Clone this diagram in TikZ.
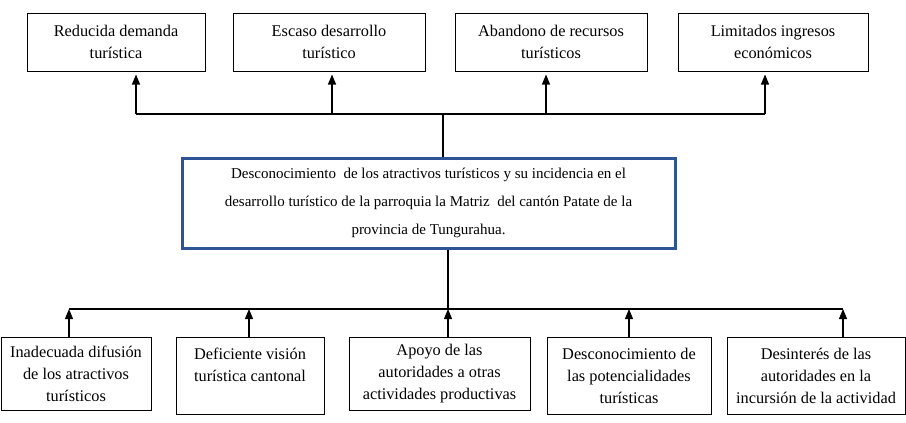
\documentclass[tikz,border=0pt]{standalone}
\usepackage{fontspec}
\setmainfont{Liberation Serif}
\usepackage{xcolor}
\usetikzlibrary{arrows.meta}
\definecolor{problemblue}{RGB}{47, 84, 150}

\tikzset{
  effect/.style={draw, line width=1pt, align=center, inner sep=0pt,
    font=\fontsize{16.3}{22}\selectfont, minimum height=58pt},
  cause/.style={draw, line width=1pt, align=center, inner sep=0pt,
    font=\fontsize{16.3}{22}\selectfont},
  problem/.style={draw=problemblue, line width=3pt, align=center, inner sep=0pt,
    font=\fontsize{15}{28.3}\selectfont, minimum width=493pt, minimum height=90pt},
  link/.style={line width=1.1pt},
  uparrow/.style={link, -{Triangle[width=8pt, length=10pt]}}
}

\begin{document}
\begin{tikzpicture}[x=1pt, y=-1pt]
\useasboundingbox (0,0) rectangle (906,423);

% efectos
\node[effect, minimum width=178pt] (e1) at (116,42) {Reducida demanda\\turística};
\node[effect, minimum width=192pt] (e2) at (329,42) {Escaso desarrollo\\turístico};
\node[effect, minimum width=192pt] (e3) at (551,42) {Abandono de recursos\\turísticos};
\node[effect, minimum width=190pt] (e4) at (773,42) {Limitados ingresos\\económicos};

% problema central
\node[problem] (p) at (428.5,203) {Desconocimiento\ \ de los atractivos turísticos y su incidencia en el\\
  desarrollo turístico de la parroquia la Matriz\ \ del cantón Patate de la\\
  provincia de Tungurahua.};

% causas
\node[cause, minimum width=150pt, minimum height=73pt] (c1) at (76,373.5) {Inadecuada difusión\\de los atractivos\\turísticos};
\node[cause, minimum width=148pt, minimum height=77pt] (c2) at (250,375.5) {Deficiente visión\\turística cantonal\\\mbox{}};
\node[cause, minimum width=181pt, minimum height=73pt] (c3) at (439.5,373.5) {Apoyo de las\\autoridades a otras\\actividades productivas};
\node[cause, minimum width=164pt, minimum height=77pt] (c4) at (629,375.5) {Desconocimiento de\\las potencialidades\\turísticas};
\node[cause, minimum width=178pt, minimum height=77pt] (c5) at (816,375.5) {Desinterés de las\\autoridades en la\\incursión de la actividad};

% barra superior
\coordinate (ea1) at (136,114);
\coordinate (ea2) at (332,114);
\coordinate (ea3) at (546,114);
\coordinate (ea4) at (765,114);
\coordinate (etop) at (443,114);
\draw[link] (ea1) -- (ea4);
\draw[link] (p.north -| etop) -- (etop);
\foreach \i in {1,...,4}
  \draw[uparrow, shorten >=3pt] (ea\i) -- (ea\i |- e\i.south);

% barra inferior
\coordinate (ca1) at (69,309);
\coordinate (ca2) at (249,309);
\coordinate (ca3) at (448,309);
\coordinate (ca4) at (629,309);
\coordinate (ca5) at (843,309);
\draw[link] (ca1) -- (ca5);
\draw[link] (p.south -| ca3) -- (ca3);
\foreach \i in {1,...,5}
  \draw[uparrow] (ca\i |- c\i.north) -- (ca\i);
\end{tikzpicture}
\end{document}
